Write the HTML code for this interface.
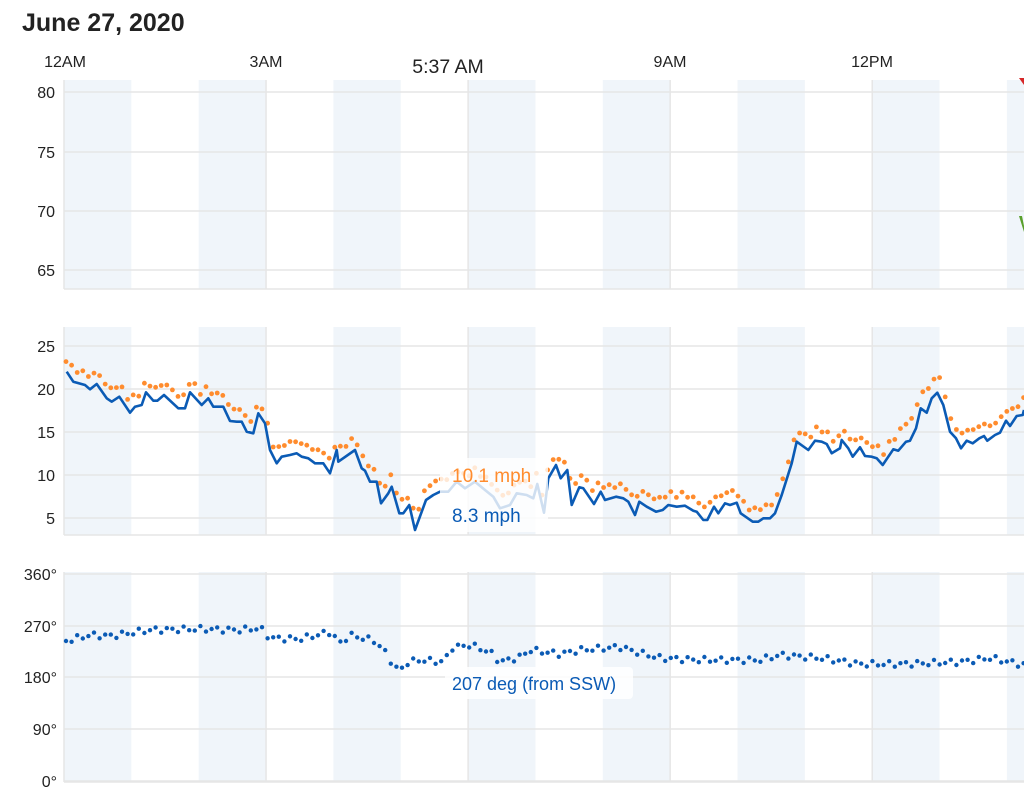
<!DOCTYPE html>
<html><head><meta charset="utf-8"><style>
body{margin:0;background:#fff;width:1024px;height:804px;overflow:hidden;font-family:"Liberation Sans",Arial,sans-serif}
svg{position:absolute;left:0;top:0}
</style></head><body>
<svg width="1024" height="804" xmlns="http://www.w3.org/2000/svg" font-family="Liberation Sans, Arial, sans-serif">
<text x="22" y="31" font-size="25" font-weight="bold" fill="#222">June 27, 2020</text>
<g font-size="16" fill="#222" text-anchor="middle">
<text x="65" y="67">12AM</text><text x="266" y="67">3AM</text><text x="670" y="67">9AM</text><text x="872" y="67">12PM</text>
</g>
<g id="bands"></g>
<g id="grid" stroke="#e6e6e6" stroke-width="1.5"></g>
<g font-size="16" fill="#222" text-anchor="end">
<text x="55" y="98">80</text><text x="55" y="158">75</text><text x="55" y="217">70</text><text x="55" y="276">65</text>
<text x="55" y="352">25</text><text x="55" y="395">20</text><text x="55" y="438">15</text><text x="55" y="481">10</text><text x="55" y="524">5</text>
<text x="57" y="580">360°</text><text x="57" y="632">270°</text><text x="57" y="683">180°</text><text x="57" y="735">90°</text><text x="57" y="787">0°</text>
</g>
<path d="M1019,78 L1024,78 L1024,85 Z" fill="#d62728"/>
<path d="M1019,216 L1022,216 L1024,226 L1024,232 Z" fill="#5aa02c"/>
<g id="gust" fill="#ff8c2e"></g>
<polyline id="wind" fill="none" stroke="#0b5bb5" stroke-width="2.6" stroke-linejoin="round"/>
<g id="dir" fill="#0b5bb5"></g>
<rect x="404" y="50" width="90" height="26" fill="#fff" opacity="0.95"/>
<text x="448" y="73" font-size="19.5" fill="#222" text-anchor="middle">5:37 AM</text>
<rect x="440" y="458" width="108" height="74" rx="4" fill="#fff" opacity="0.8"/>
<text x="452" y="482" font-size="19" fill="#ff8c2e">10.1 mph</text>
<text x="452" y="522" font-size="19" fill="#0b5bb5">8.3 mph</text>
<rect x="445" y="667" width="188" height="32" rx="4" fill="#fff" opacity="0.85"/>
<text x="452" y="690" font-size="18" fill="#0b5bb5">207 deg (from SSW)</text>
</svg>
<script>
const NS="http://www.w3.org/2000/svg";
function el(p,t,a){const e=document.createElementNS(NS,t);for(const k in a)e.setAttribute(k,a[k]);document.getElementById(p).appendChild(e);return e;}
const H=67.35,X0=64;
const panels=[[80,289],[327,535],[572,782]];
for(const [t,b] of panels){
  for(let h=0;h<16;h+=2){const x=X0+h*H;el('bands','rect',{x:x,y:t,width:Math.min(H,1024-x),height:b-t,fill:'#f0f5fa'});}
  el('grid','line',{x1:X0,y1:b,x2:1024,y2:b});
  el('grid','line',{x1:X0,y1:t,x2:X0,y2:b});
  for(const h of [3,6,9,12]){const x=X0+h*H;el('grid','line',{x1:x,y1:t,x2:x,y2:b});}
}
for(const y of [92,152,211,270,346,389,432,475,518,574,626,677,729,781])el('grid','line',{x1:X0,y1:y,x2:1024,y2:y});
const w=[[66.7,371.7],[73.3,381.7],[85,385],[90,389.3],[96.7,384],[106.7,398.3],[111.7,401.7],[119.3,396.7],[130,412.7],[135,406.7],[141.7,405],[146,392.3],[153.3,400.7],[157.3,400.7],[164,395],[178.3,408.3],[185,408.3],[190,392.3],[201.7,405],[208.3,398.3],[213.3,406.7],[223.3,406.7],[230,421],[236.7,421.7],[241.7,421.7],[246.7,431.7],[253.3,433.3],[258.3,413.3],[265,423.3],[270,450],[276.7,463.3],[281.7,456.7],[290,455],[296.7,453.3],[301.7,456.7],[308.3,458.3],[315,463.3],[323.3,463.3],[330,473.3],[336.7,450],[338.3,461.7],[355,450],[361.7,468.3],[365,470.7],[370,481.7],[376.7,481.7],[381,503.3],[388.3,493.3],[391.7,486.7],[399.3,513.3],[403.3,513.3],[409.3,505],[415,530],[426,500],[433.3,495],[440,491.7],[448.3,491.7],[456.7,481.7],[465,488.3],[475,481.7],[485,490],[493.3,496.7],[500,508.3],[510,505],[516.7,493.3],[526.7,495],[530,496.7],[533.3,498.3],[537.3,484],[544,512.7],[548.3,478.3],[556,465],[560.7,478.3],[567.3,470],[571.7,505],[579.3,487.3],[583.3,488.3],[594,504],[600.7,491.7],[605,500],[616,496.7],[623.3,498.3],[628.3,501.7],[635,515],[639.3,501.7],[646.7,506.7],[656,511.7],[662.7,510],[668.3,505],[676.7,506.7],[685,505.7],[693.3,510.7],[696.7,511.7],[703.3,520],[707.3,520],[714,506.7],[718.3,513.3],[725,503.3],[730,505],[736.7,502.7],[740.7,513.3],[752.7,521.7],[758.3,521.7],[763.3,518.3],[770,518.3],[775,513.3],[781.7,495],[791.7,463.3],[796.7,441.7],[808.3,450],[815,440.7],[821.7,441.7],[826.7,444],[831.7,453.3],[840,448.3],[841.7,440],[848.3,448.3],[852.7,456.7],[860,447.3],[865,456],[871.7,456.7],[876.7,458.3],[882.7,465],[893.3,449.3],[898.3,450.7],[906,441.7],[910,440.7],[916,428.3],[920.7,408.3],[926.7,412.7],[931.7,398.3],[937.3,392.7],[943.3,405],[950,431.7],[956,438.3],[961,448.3],[966.7,440.7],[972.7,443.3],[979.3,438.3],[984,436],[987.3,440.7],[995,435],[1000,432.7],[1006,420.7],[1010,426],[1016.7,416],[1022.7,415],[1024,410]];
document.getElementById('wind').setAttribute('points',w.map(p=>p.join(',')).join(' '));
function interp(a,x){for(let i=1;i<a.length;i++)if(a[i][0]>=x){const[p,q]=[a[i-1],a[i]];return p[1]+(q[1]-p[1])*(x-p[0])/(q[0]-p[0]||1);}return a[a.length-1][1];}
let i=0;
for(let x=66;x<=1024;x+=5.6,i++){
  const y=interp(w,x)-9-5*Math.abs(Math.sin(i*1.7))-(x>900&&x<950?6:0);
  el('gust','circle',{cx:x.toFixed(1),cy:y.toFixed(1),r:2.4});
}
const d=[[66,641],[90,635],[110,636],[130,633],[150,630],[200,629],[240,630],[260,628],[270,638],[300,639],[330,632],[340,643],[350,635],[375,641],[385,652],[395,667],[400,672],[405,663],[420,660],[445,662],[450,648],[470,645],[490,652],[500,662],[520,657],[530,650],[560,654],[580,650],[620,647],[640,653],[660,658],[700,660],[760,660],[780,655],[820,658],[860,664],[900,664],[960,662],[990,658],[1024,665]];
i=0;
for(let x=66;x<=1024;x+=5.6,i++){
  const y=interp(d,x)+3*Math.sin(i*2.3);
  el('dir','circle',{cx:x.toFixed(1),cy:y.toFixed(1),r:2.2});
}
</script>
</body></html>
